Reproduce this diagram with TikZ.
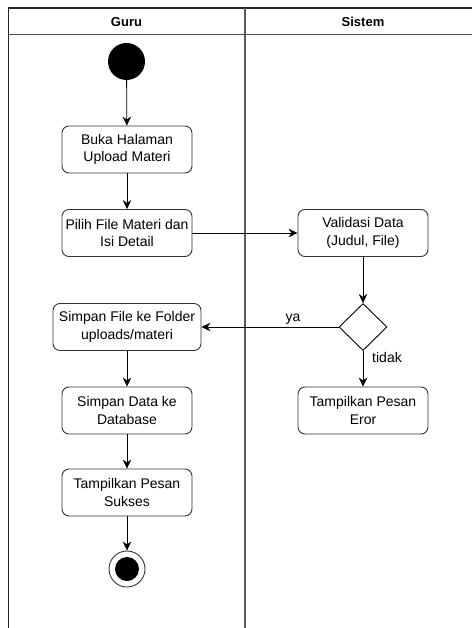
\documentclass[tikz,border=0pt]{standalone}
\usepackage{fontspec}
\setmainfont{Liberation Sans}
\usetikzlibrary{arrows.meta,shapes.geometric}
\begin{document}
\begin{tikzpicture}[x=1pt,y=-1pt,
    aksi/.style={draw=black!80,line width=0.9pt,rounded corners=7pt,
      minimum width=130pt,minimum height=47pt,align=center,inner sep=2pt,
      font=\fontsize{14}{17.5}\selectfont},
    awal/.style={circle,fill=black,minimum size=37pt,inner sep=0pt},
    akhir/.style={circle,draw=black!80,line width=0.9pt,minimum size=36pt,inner sep=0pt,
      path picture={\fill (path picture bounding box.center) circle (12pt);}},
    pilihan/.style={diamond,draw=black,line width=0.9pt,minimum width=48pt,
      minimum height=47pt,inner sep=0pt},
    lajur/.style={font=\fontsize{13}{16}\selectfont\bfseries},
    label/.style={font=\fontsize{14}{17}\selectfont,inner sep=0pt}]
      \useasboundingbox (0,0) rectangle (472,628);
      % kolam dan lajur
      \draw[line width=1.2pt,black!85] (8.5,628) -- (8.5,8) -- (472,8);
      \draw[line width=1pt,black!70] (8.5,35) -- (472,35);
      \draw[line width=1.2pt,black!65] (245,8) -- (245,628);
      \draw
        (126.5,22) node[lajur] (guru){Guru}
        (363,22) node[lajur] (sistem){Sistem};
      % simpul
      \draw
        (126.5,61.5) node[awal] (mulai){}
        (127,149.5) node[aksi] (buka){Buka Halaman\\Upload Materi}
        (127,233) node[aksi] (pilih){Pilih File Materi dan\\Isi Detail}
        (363,233) node[aksi] (validasi){Validasi Data\\(Judul, File)}
        (363,327) node[pilihan] (cek){}
        (127,327) node[aksi,minimum width=148pt] (simpanfile){Simpan File ke Folder\\uploads/materi}
        (127,410.5) node[aksi] (simpandata){Simpan Data ke\\Database}
        (363,410.5) node[aksi] (eror){Tampilkan Pesan\\Eror}
        (127,492.5) node[aksi] (sukses){Tampilkan Pesan\\Sukses}
        (127,569) node[akhir] (selesai){};
      \begin{scope}[-{Stealth[length=9pt,width=8.5pt]},line width=0.8pt]
        \draw (mulai) to (buka);
        \draw (buka) to (pilih);
        \draw (pilih) to (validasi);
        \draw (validasi) to (cek);
        \draw (cek) to (simpanfile);
        \draw (cek) to (eror);
        \draw (simpanfile) to (simpandata);
        \draw (simpandata) to (sukses);
        \draw (sukses) to (selesai);
      \end{scope}
      \draw
        (293,319) node[label] (ya){ya}
        (387,357) node[label] (tidak){tidak};
    \end{tikzpicture}
\end{document}
